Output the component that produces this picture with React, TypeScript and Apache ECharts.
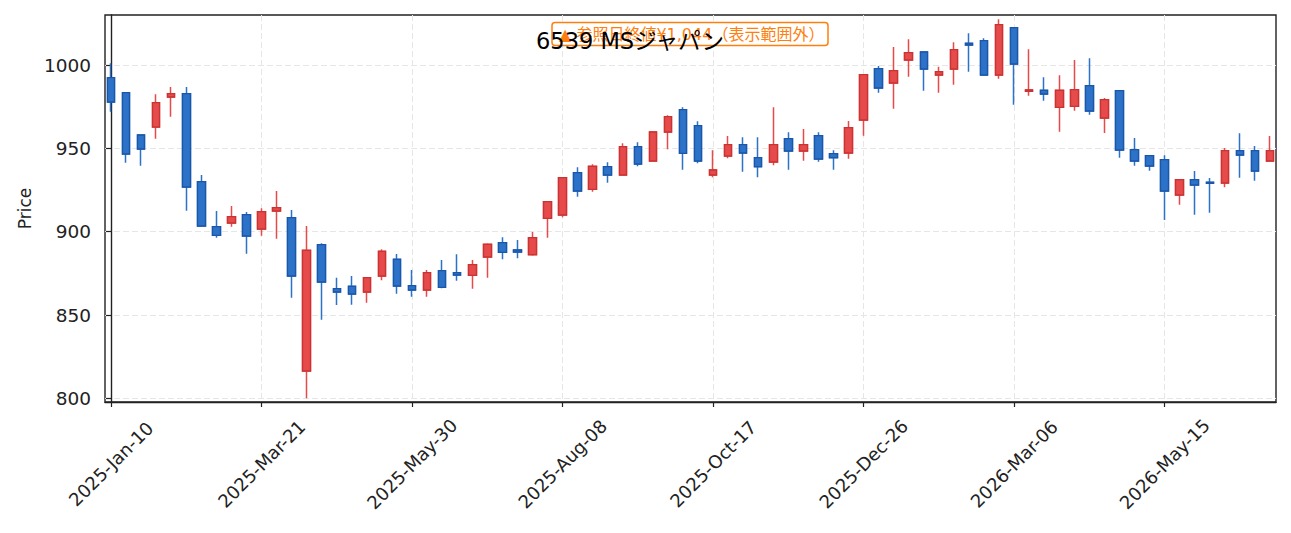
import React, { useEffect, useRef } from "react";
import * as echarts from "echarts";

const opens = [
  992.4, 983.4, 958, 962.8, 980.8, 982.8, 930, 903, 905.2, 910.2,
  901.6, 912.4, 908.4, 816.4, 892.2, 865.8, 867.2, 863.8, 873.4, 883.4,
  867.6, 865, 876.6, 875.4, 873.8, 884.8, 893.4, 889, 886.2, 908,
  910, 935.4, 925.4, 939, 934, 951, 942.4, 959.8, 973.2, 963.6,
  934, 945.4, 952.2, 944.4, 941.8, 955.8, 948.4, 957.6, 946.8, 947.2,
  967, 997.8, 989.2, 1003, 1007.8, 994, 997.6, 1013, 1014.6, 994,
  1022.4, 984.2, 984.8, 974.6, 975.2, 987.6, 968.2, 984.6, 949.2, 945.6,
  943.2, 922, 931.2, 929.6, 929.2, 948.6, 948.6, 942.4,
];
const closes = [
  977.8, 946.6, 949.6, 977.4, 982.8, 926.8, 903.4, 897.8, 909, 897.4,
  912, 914.4, 873.4, 888.8, 869.8, 863.8, 862.6, 872.4, 888.2, 867.4,
  865, 875.4, 866.6, 874, 880.2, 892.4, 887.6, 887.8, 896.4, 918,
  932.4, 924.4, 939.2, 934, 951, 940.6, 959.8, 969, 947, 942.4,
  937, 952.2, 947.2, 939, 952.2, 948.4, 952.2, 943.6, 944.4, 962.4,
  994.2, 986.2, 996.6, 1007.4, 997.6, 996, 1009.2, 1012, 994, 1024.2,
  1000.6, 985, 982.6, 984.8, 985.2, 972.4, 979.2, 949, 942.4, 939.4,
  924.4, 931.2, 928, 929, 948.6, 946, 936.4, 948.6,
];
const lows = [
  972, 941.4, 939.6, 955.8, 969, 912.6, 903.4, 896.4, 903, 886.8,
  897.6, 895.8, 860.4, 800, 847.2, 856, 856.2, 857.4, 870.8, 862.8,
  861, 861, 866, 870.6, 865.8, 872.4, 883.4, 884, 885.6, 896.4,
  908.6, 921, 924, 929.4, 934, 939.2, 942.4, 949.4, 937.2, 941,
  932.6, 944, 936, 932.6, 939.8, 937.2, 942.6, 942, 937.2, 943.8,
  957.6, 983.4, 973.8, 993, 984.6, 983.4, 988.2, 996, 994, 991.8,
  976.2, 981.6, 978.6, 960, 972.6, 970.2, 959.2, 944.4, 939.6, 936.6,
  907, 916.2, 910.2, 911.4, 926.6, 932.4, 930.6, 942.4,
];
const highs = [
  1001, 983.4, 958, 982.4, 986.8, 986.8, 934, 912.4, 915.4, 911.8,
  914, 924.4, 913, 903.4, 893, 872.4, 873.4, 872.4, 889.4, 886.6,
  877, 877, 883, 886.4, 883, 893, 896.6, 895, 899.8, 918,
  932.4, 938.6, 940.4, 941.6, 953, 953.6, 959.8, 969.8, 974.6, 966.2,
  948.8, 957.4, 956.6, 956.6, 974.6, 959.6, 961.6, 959.6, 948.8, 966.4,
  994.2, 999.4, 1010.8, 1015.4, 1007.8, 999, 1013.6, 1019, 1016, 1027.4,
  1022.4, 1009.4, 992.6, 993.8, 1003, 1004, 980.2, 984.6, 956.2, 945.6,
  945.8, 931.2, 936.4, 932.2, 950.2, 959, 951.4, 957.4,
];

const tickIndex = [0, 10, 20, 30, 40, 50, 60, 70];
const tickLabels = [
  "2025-Jan-10", "2025-Mar-21", "2025-May-30", "2025-Aug-08",
  "2025-Oct-17", "2025-Dec-26", "2026-Mar-06", "2026-May-15",
];
const yTicks = [800, 850, 900, 950, 1000];

const titleText = "6539 MSジャパン";
const noteText = "▲ 参照日終値¥1,044（表示範囲外）";
const yName = "Price";

const FONT = '"DejaVu Sans", "Noto Sans CJK JP", sans-serif';
const UP_FILL = "#e64a4a";
const UP_EDGE = "#c83434";
const DOWN_FILL = "#2b72c8";
const DOWN_EDGE = "#1c56a6";
const ORANGE = "#ff7f0e";
const INK = "#222222";
const GRID = "#e6e6e6";

export default function App() {
  const ref = useRef<HTMLDivElement>(null);

  useEffect(() => {
    if (!ref.current) return;
    const chart = echarts.init(ref.current, undefined, { renderer: "svg" });

    const wickData = opens.map((o, i) => [i, o, closes[i], lows[i], highs[i]]);
    const bodyData = opens.map((o, i) => [
      i,
      o,
      closes[i],
      Math.min(o, closes[i]),
      Math.max(o, closes[i]),
    ]);

    chart.setOption({
      animation: false,
      backgroundColor: "#ffffff",
      textStyle: { fontFamily: FONT },
      grid: {
        left: 105,
        right: 15,
        top: 15,
        bottom: 131,
        show: true,
        borderColor: INK,
        borderWidth: 1.4,
        backgroundColor: "transparent",
      },
      xAxis: {
        type: "value",
        min: -0.4,
        max: 77.4,
        axisLine: { show: true, lineStyle: { color: INK, width: 1.4 } },
        axisTick: {
          show: true,
          customValues: tickIndex,
          length: 5,
          lineStyle: { color: INK, width: 1.2 },
        },
        axisLabel: {
          customValues: tickIndex,
          formatter: (v: number) => {
            const k = tickIndex.indexOf(Math.round(v));
            return k >= 0 ? tickLabels[k] : "";
          },
          rotate: 45,
          align: "center",
          verticalAlign: "middle",
          margin: 62,
          fontSize: 18,
          color: INK,
          fontFamily: FONT,
        },
        splitLine: {
          show: true,
          lineStyle: { color: GRID, type: [6, 3], width: 1 },
        },
      },
      yAxis: {
        type: "value",
        min: 797.8,
        max: 1030,
        name: yName,
        nameLocation: "middle",
        nameGap: 72,
        nameTextStyle: { fontSize: 17, color: INK, fontFamily: FONT },
        axisLine: { show: true, lineStyle: { color: INK, width: 1.4 } },
        axisTick: {
          show: true,
          customValues: yTicks,
          length: 5,
          lineStyle: { color: INK, width: 1.2 },
        },
        axisLabel: {
          customValues: yTicks,
          formatter: (v: number) => String(Math.round(v)),
          margin: 14,
          fontSize: 18.5,
          color: INK,
          fontFamily: FONT,
        },
        splitLine: {
          show: true,
          lineStyle: { color: GRID, type: [6, 3], width: 1 },
        },
      },
      series: [
        {
          type: "candlestick",
          data: wickData,
          encode: { x: 0, y: [1, 2, 3, 4] },
          barWidth: 8,
          itemStyle: {
            color: UP_FILL,
            color0: DOWN_FILL,
            borderColor: UP_FILL,
            borderColor0: DOWN_FILL,
            borderWidth: 1.5,
          },
          z: 2,
        },
        {
          type: "candlestick",
          data: bodyData,
          encode: { x: 0, y: [1, 2, 3, 4] },
          barWidth: 8,
          itemStyle: {
            color: UP_FILL,
            color0: DOWN_FILL,
            borderColor: UP_EDGE,
            borderColor0: DOWN_EDGE,
            borderWidth: 1.3,
          },
          z: 3,
        },
      ],
      graphic: [
        {
          type: "rect",
          shape: { x: 552, y: 22.5, width: 276, height: 23, r: 3 },
          style: { fill: "#ffffff", stroke: ORANGE, lineWidth: 1.5 },
          z: 10,
        },
        {
          type: "text",
          x: 559,
          y: 34.5,
          style: {
            text: noteText,
            fill: ORANGE,
            fontSize: 16,
            fontFamily: FONT,
            align: "left",
            verticalAlign: "middle",
          },
          z: 11,
        },
        {
          type: "text",
          x: 536,
          y: 40.5,
          style: {
            text: titleText,
            fill: "#000000",
            fontSize: 22.5,
            fontFamily: FONT,
            align: "left",
            verticalAlign: "middle",
          },
          z: 12,
        },
      ],
    });

    return () => chart.dispose();
  }, []);

  return (
    <div
      ref={ref}
      style={{ position: "fixed", left: 0, top: 0, width: 1291, height: 533 }}
    />
  );
}
